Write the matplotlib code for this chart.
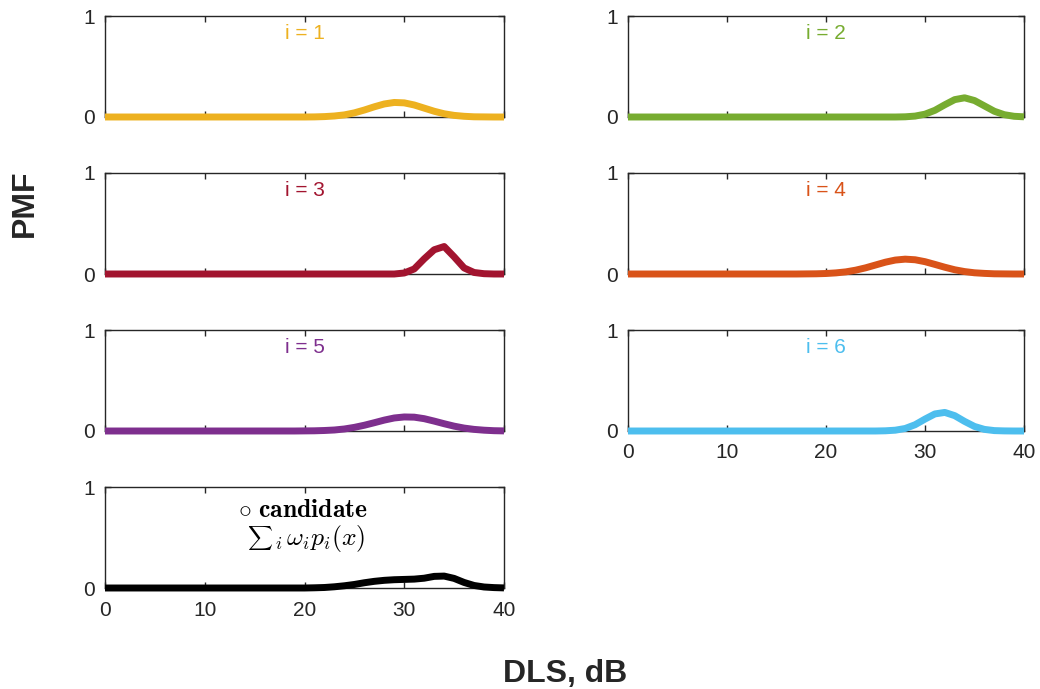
import matplotlib
matplotlib.use("Agg")
import matplotlib.pyplot as plt

plt.rcParams['font.family'] = ['Liberation Sans', 'DejaVu Sans']
plt.rcParams['mathtext.fontset'] = 'cm'

dls = list(range(41))

pmf_1 = [0, 0, 0, 0, 0, 0, 0, 0, 0, 0,
         0, 0, 0, 0, 0, 0, 0, 0, 0, 0,
         0.0, 0.001, 0.004, 0.010, 0.021, 0.041, 0.069, 0.101, 0.129, 0.144,
         0.140, 0.119, 0.088, 0.057, 0.032, 0.016, 0.007, 0.002, 0.001, 0, 0]
pmf_2 = [0, 0, 0, 0, 0, 0, 0, 0, 0, 0,
         0, 0, 0, 0, 0, 0, 0, 0, 0, 0,
         0, 0, 0, 0, 0, 0, 0, 0, 0.002, 0.009,
         0.028, 0.066, 0.121, 0.172, 0.190, 0.163, 0.110, 0.057, 0.023, 0.007, 0.002]
pmf_3 = [0, 0, 0, 0, 0, 0, 0, 0, 0, 0,
         0, 0, 0, 0, 0, 0, 0, 0, 0, 0,
         0, 0, 0, 0, 0, 0, 0, 0, 0, 0,
         0.010, 0.050, 0.150, 0.240, 0.272, 0.170, 0.060, 0.015, 0.003, 0, 0]
pmf_4 = [0, 0, 0, 0, 0, 0, 0, 0, 0, 0,
         0, 0, 0, 0, 0, 0, 0, 0, 0.001, 0.002,
         0.005, 0.011, 0.021, 0.038, 0.061, 0.089, 0.117, 0.138, 0.147, 0.141,
         0.122, 0.095, 0.067, 0.042, 0.024, 0.012, 0.006, 0.002, 0.001, 0, 0]
pmf_5 = [0, 0, 0, 0, 0, 0, 0, 0, 0, 0,
         0, 0, 0, 0, 0, 0, 0, 0, 0, 0,
         0.001, 0.002, 0.005, 0.010, 0.020, 0.036, 0.057, 0.082, 0.108, 0.129,
         0.139, 0.137, 0.122, 0.098, 0.072, 0.048, 0.029, 0.016, 0.008, 0.003, 0.001]
pmf_6 = [0, 0, 0, 0, 0, 0, 0, 0, 0, 0,
         0, 0, 0, 0, 0, 0, 0, 0, 0, 0,
         0, 0, 0, 0, 0, 0, 0.002, 0.008, 0.025, 0.062,
         0.118, 0.169, 0.184, 0.152, 0.095, 0.045, 0.016, 0.004, 0.001, 0, 0]
candidate = [0, 0, 0, 0, 0, 0, 0, 0, 0, 0,
             0, 0, 0, 0, 0, 0, 0, 0, 0, 0,
             0, 0.002, 0.005, 0.012, 0.022, 0.035, 0.052, 0.066, 0.076, 0.082,
             0.085, 0.088, 0.097, 0.115, 0.118, 0.095, 0.055, 0.025, 0.010, 0.004, 0.001]

series = [pmf_1, pmf_2, pmf_3, pmf_4, pmf_5, pmf_6]
labels = ['i = 1', 'i = 2', 'i = 3', 'i = 4', 'i = 5', 'i = 6']
colors = ['#EDB120', '#77AC30', '#A2142F', '#D95319', '#7E2F8E', '#4DBEEE']

W, H = 1040, 689
fig = plt.figure(figsize=(W / 100, H / 100), dpi=100)

col_left = [105, 628]
col_width = [399, 396]
row_bottom = [117, 274, 431, 588]
ax_h = 101


def make_axes(col, row, show_xlabels):
    ax = fig.add_axes([col_left[col] / W, 1 - row_bottom[row] / H,
                       col_width[col] / W, ax_h / H])
    ax.set_xlim(0, 40)
    ax.set_ylim(0, 1)
    ax.set_xticks([0, 10, 20, 30, 40])
    ax.set_yticks([0, 1])
    ax.tick_params(direction='in', top=True, right=True, length=4,
                   labelsize=15, colors='#262626', width=1)
    ax.tick_params(axis='x', pad=9, labelbottom=show_xlabels)
    ax.tick_params(axis='y', pad=7)
    for s in ax.spines.values():
        s.set_color('#262626')
        s.set_linewidth(1)
    return ax


for k in range(6):
    col = k % 2
    row = k // 2
    show = (col == 1 and row == 2)
    ax = make_axes(col, row, show)
    ax.plot(dls, series[k], color=colors[k], lw=5, clip_on=False,
            solid_capstyle='butt', zorder=5)
    ax.text(0.5, 0.83, labels[k], transform=ax.transAxes, ha='center',
            va='center', fontsize=15, color=colors[k])

ax = make_axes(0, 3, True)
ax.plot(dls, candidate, color='black', lw=5, clip_on=False,
        solid_capstyle='butt', zorder=5)
ax.text(0.333, 0.77, r'$\circ\ \mathbf{candidate}$', transform=ax.transAxes,
        ha='left', va='center', fontsize=18.5)
# small inline-style sum sign, then the rest placed right after it
sum_sign = ax.text(0.356, 0.50, r'$\sum$', transform=ax.transAxes,
                   ha='left', va='center', fontsize=12.5)
ax.annotate(r'${}_i\,\omega_i p_i(x)$', xy=(1.0, 0.24), xycoords=sum_sign,
            xytext=(0.5, 0), textcoords='offset points',
            ha='left', va='baseline', fontsize=18.5)

fig.text(0.0236, 0.705, 'PMF', rotation=90, ha='center', va='center',
         fontsize=23, fontweight='bold', color='#262626')
fig.text(0.5437, 0.0102, 'DLS, dB', ha='center', va='baseline',
         fontsize=23, fontweight='bold', color='#262626')

fig.savefig('out.png', dpi=100)
